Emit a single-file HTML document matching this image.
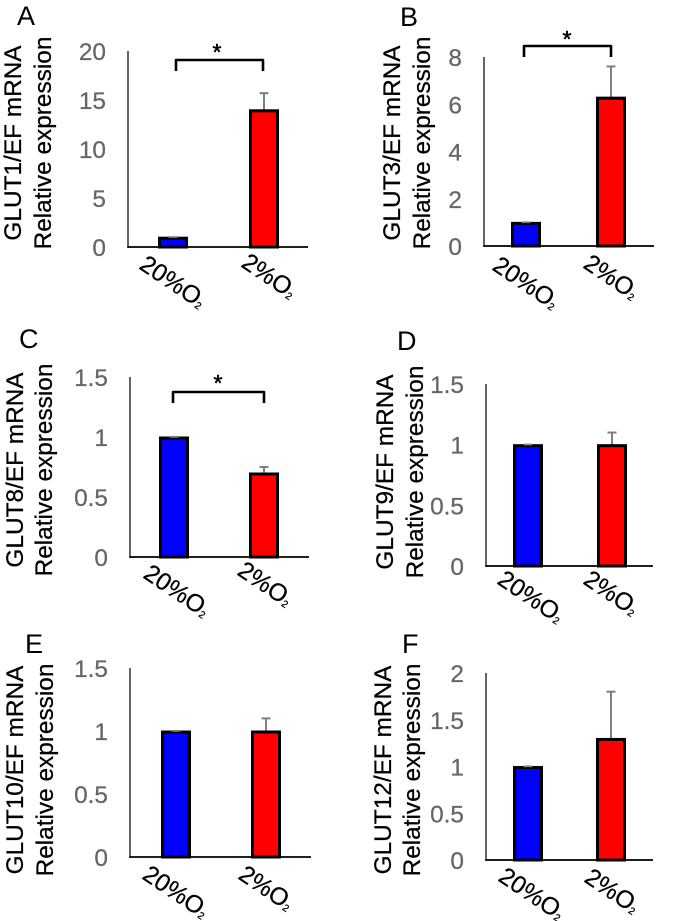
<!DOCTYPE html>
<html lang="en">
<head>
<meta charset="utf-8">
<title>GLUT mRNA relative expression</title>
<style>
html,body{margin:0;padding:0;background:#fff;}
svg{display:block;font-family:"Liberation Sans",sans-serif;}
</style>
</head>
<body>
<svg id="figure" xmlns="http://www.w3.org/2000/svg" width="677" height="921" viewBox="0 0 677 921">
<defs><filter id="soft" x="0" y="0" width="100%" height="100%"><feGaussianBlur stdDeviation="0.35"/></filter></defs>
</svg>
<script>
const panelLetters = ['A', 'B', 'C', 'D', 'E', 'F'];
const geneNames = ['GLUT1', 'GLUT3', 'GLUT8', 'GLUT9', 'GLUT10', 'GLUT12'];
const categories = ['20%O', '2%O'];
const controlMeans = [1, 1, 1, 1, 1, 1];
const hypoxiaMeans = [14, 6.3, 0.7, 1, 1, 1.3];
const hypoxiaErrors = [1.7, 1.3, 0.05, 0.1, 0.1, 0.5];
const tickLabelsA = ['0', '5', '10', '15', '20'];
const tickLabelsB = ['0', '2', '4', '6', '8'];
const tickLabelsC = ['0', '0.5', '1', '1.5'];
const tickLabelsD = ['0', '0.5', '1', '1.5'];
const tickLabelsE = ['0', '0.5', '1', '1.5'];
const tickLabelsF = ['0', '0.5', '1', '1.5', '2'];
const tickLabelSets = [tickLabelsA, tickLabelsB, tickLabelsC, tickLabelsD, tickLabelsE, tickLabelsF];
const significant = [true, true, true, false, false, false];

const svg = document.getElementById('figure');
const NS = 'http://www.w3.org/2000/svg';
const ANGLE = 34;
const root = document.createElementNS(NS, 'g');
root.setAttribute('filter', 'url(#soft)');
svg.appendChild(root);

function mk(tag, attrs, parent, text) {
  const el = document.createElementNS(NS, tag);
  for (const k in attrs) el.setAttribute(k, attrs[k]);
  if (text !== undefined) el.textContent = text;
  parent.appendChild(el);
  return el;
}

function drawPanel(i, g) {
  const yMax = Number(tickLabelSets[i][tickLabelSets[i].length - 1]);
  const yScale = v => g.base - (v / yMax) * (g.base - g.top);
  const panel = mk('g', {}, root);
  
  

  const letter = mk('text', { x: g.letterX, y: g.letterY, 'font-size': 27, fill: '#000' }, panel, panelLetters[i]);
  
  

  const title1 = mk('text', { transform: 'translate(' + g.title1X + ' ' + g.titleY + ') rotate(-90)', 'text-anchor': 'middle', 'font-size': 24.4, fill: '#000', stroke: '#000', 'stroke-width': 0.25 }, panel, geneNames[i] + '/EF mRNA');
  
  

  const title2 = mk('text', { transform: 'translate(' + g.title2X + ' ' + g.titleY + ') rotate(-90)', 'text-anchor': 'middle', 'font-size': 24.4, fill: '#000', stroke: '#000', 'stroke-width': 0.25 }, panel, 'Relative expression');
  
  

  tickLabelSets[i].forEach(label => {
    const tick = mk('text', { x: g.tickX, y: yScale(Number(label)) + 9, 'text-anchor': 'end', 'font-size': 24.4, fill: '#666', stroke: '#666', 'stroke-width': 0.25 }, panel, label);
    
    
  });

  const values = [controlMeans[i], hypoxiaMeans[i]];
  const errors = [0, hypoxiaErrors[i]];
  const centers = [g.c1, g.c2];
  const colors = ['#0000ff', '#ff0000'];
  values.forEach((v, j) => {
    const errTop = yScale(v + errors[j]);
    const errLine = mk('line', { x1: centers[j], x2: centers[j], y1: yScale(v), y2: errTop, stroke: '#7f7f7f', 'stroke-width': 2 }, panel);
    
    
    const errCap = mk('line', { x1: centers[j] - 4.5, x2: centers[j] + 4.5, y1: errTop, y2: errTop, stroke: '#7f7f7f', 'stroke-width': 2 }, panel);
    
    
    const bar = mk('rect', { x: centers[j] - 13.5, y: yScale(v) + 1, width: 27, height: g.base - yScale(v) - 1, fill: colors[j], stroke: '#000', 'stroke-width': 3 }, panel);
    
    
    if (j === 0) {
      const capOver = mk('line', { x1: centers[j] - 4.5, x2: centers[j] + 4.5, y1: errTop, y2: errTop, stroke: '#7f7f7f', 'stroke-width': 1.5 }, panel);
      
      
    }
  });

  const yAxis = mk('line', { x1: g.axisX, x2: g.axisX, y1: g.top, y2: g.base + 1, stroke: '#333', 'stroke-width': 1.5 }, panel);
  
  
  const xAxis = mk('line', { x1: g.axisX - 0.7, x2: g.right, y1: g.base, y2: g.base, stroke: '#000', 'stroke-width': 1.8 }, panel);
  
  

  categories.forEach((cat, j) => {
    const label = mk('text', { transform: 'translate(' + g.catX[j] + ' ' + g.catY[j] + ') rotate(' + ANGLE + ')', 'font-size': 24.5, fill: '#000', stroke: '#000', 'stroke-width': 0.25 }, panel, cat);
    
    
    mk('tspan', { 'font-size': 10, dy: 1 }, label, '2');
  });

  if (significant[i]) {
    const d = 'M' + g.bx1 + ' ' + g.bBottom + 'V' + g.bTop + 'H' + g.bx2 + 'V' + g.bBottom;
    const bracket = mk('path', { d: d, fill: 'none', stroke: '#000', 'stroke-width': 2.6, 'stroke-linejoin': 'round' }, panel);
    
    
    const star = mk('text', { x: g.starX, y: g.starY, 'text-anchor': 'middle', 'font-size': 23, fill: '#000', stroke: '#000', 'stroke-width': 0.5 }, panel, '*');
    
    
  }
}

drawPanel(0, { axisX: 128, top: 51, base: 247, right: 308, c1: 173, c2: 264, tickX: 106, title1X: 21, title2X: 51, titleY: 143, letterX: 17, letterY: 25, catX: [138, 240], catY: [268, 266], bx1: 176, bx2: 263, bTop: 60, bBottom: 71, starX: 217, starY: 60 });
drawPanel(1, { axisX: 484, top: 57, base: 246, right: 654, c1: 526, c2: 611, tickX: 462, title1X: 400, title2X: 430, titleY: 143, letterX: 400, letterY: 26, catX: [491, 582], catY: [269, 267], bx1: 524, bx2: 611, bTop: 46, bBottom: 57, starX: 567, starY: 47 });
drawPanel(2, { axisX: 130, top: 377, base: 557, right: 309, c1: 174, c2: 264, tickX: 108, title1X: 23, title2X: 52, titleY: 470, letterX: 19, letterY: 348, catX: [142, 236], catY: [577, 574], bx1: 173, bx2: 264, bTop: 392, bBottom: 403, starX: 218, starY: 391 });
drawPanel(3, { axisX: 486, top: 384, base: 566, right: 653, c1: 528, c2: 612, tickX: 464, title1X: 393, title2X: 423, titleY: 472, letterX: 397, letterY: 350, catX: [496, 582], catY: [583, 583], bx1: 0, bx2: 0, bTop: 0, bBottom: 0, starX: 0, starY: 0 });
drawPanel(4, { axisX: 130, top: 668, base: 857, right: 311, c1: 176, c2: 266, tickX: 108, title1X: 23, title2X: 53, titleY: 770, letterX: 25, letterY: 653, catX: [141, 237], catY: [878, 878], bx1: 0, bx2: 0, bTop: 0, bBottom: 0, starX: 0, starY: 0 });
drawPanel(5, { axisX: 486, top: 673, base: 860, right: 653, c1: 528, c2: 611, tickX: 464, title1X: 391, title2X: 420, titleY: 770, letterX: 402, letterY: 653, catX: [497, 583], catY: [880, 881], bx1: 0, bx2: 0, bTop: 0, bBottom: 0, starX: 0, starY: 0 });
</script>
</body>
</html>
